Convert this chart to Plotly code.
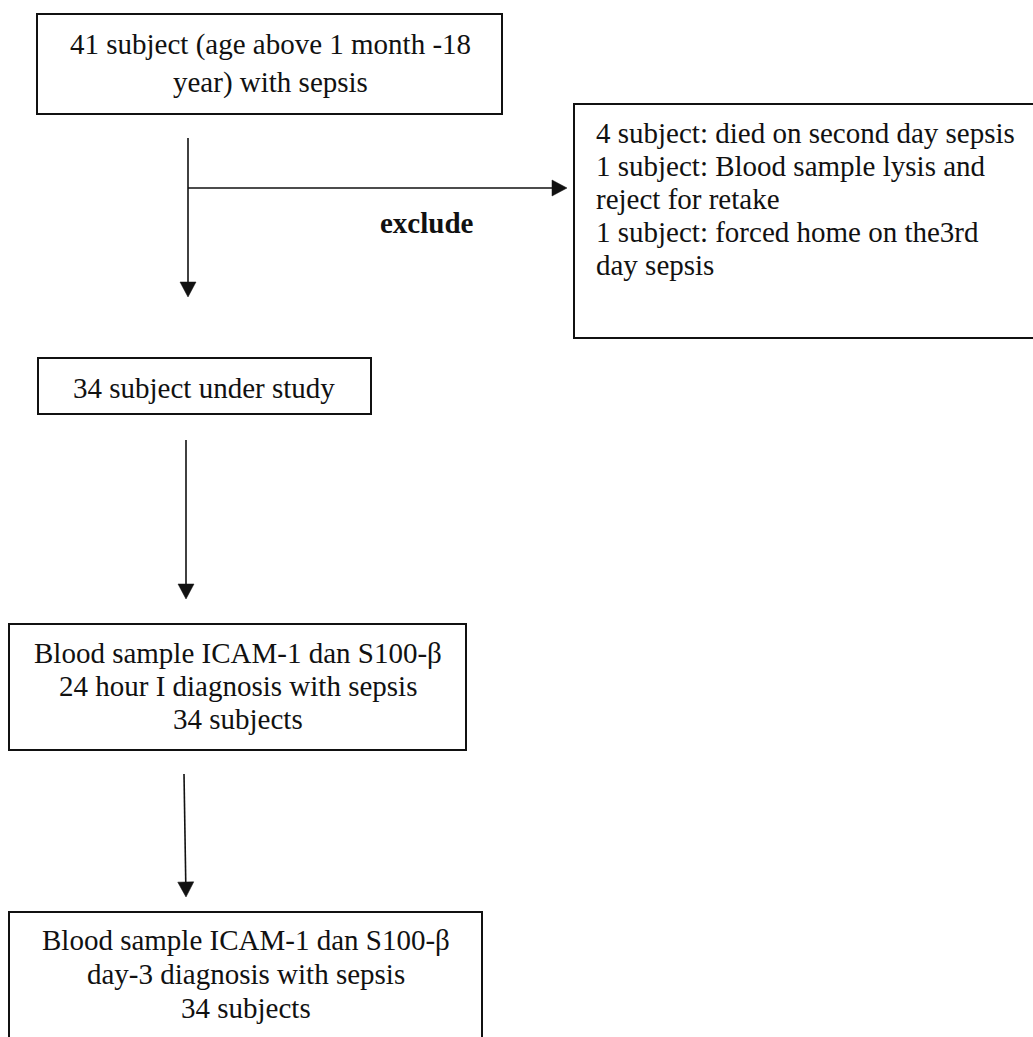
import math
import plotly.graph_objects as go

W, H = 1033, 1037
FONT = "Liberation Serif, Times New Roman, serif"
FS = 29

# Boxes: (x0, y0, x1, y1) in pixel coordinates of the canvas
box_names = ["start", "exclude", "study", "day1", "day3"]
box_x0 = [37, 574, 38, 9, 9]
box_y0 = [14, 104, 358, 624, 912]
box_x1 = [502, 1045, 371, 466, 482]
box_y1 = [114, 338, 414, 750, 1050]

# Text lines: text, x, baseline y, alignment
line_texts = [
    "41 subject (age above 1 month -18",
    "year) with sepsis",
    "4 subject: died on second day sepsis",
    "1 subject: Blood sample lysis and",
    "reject for retake",
    "1 subject: forced home on the3rd",
    "day sepsis",
    "34 subject under study",
    "Blood sample ICAM-1 dan S100-β",
    "24 hour I diagnosis with sepsis",
    "34 subjects",
    "Blood sample ICAM-1 dan S100-β",
    "day-3 diagnosis with sepsis",
    "34 subjects",
]
line_x = [270, 270, 594, 594, 594, 594, 594, 204, 238, 238, 238, 246, 246, 246]
line_base = [53, 91, 142, 175, 208, 241, 274, 397, 662, 695, 728, 949, 983, 1017]
line_align = ["center", "center", "left", "left", "left", "left", "left",
              "center", "center", "center", "center", "center", "center", "center"]

# Label
label_text = "<b>exclude</b>"
label_x = 427
label_base = 232

# Arrows: start (x, y) -> tip (x, y)
arrow_x0 = [188, 188, 186, 184]
arrow_y0 = [138, 188, 440, 774]
arrow_x1 = [188, 567, 186, 186]
arrow_y1 = [297, 188, 599, 897]

fig = go.Figure()
fig.add_trace(go.Scatter(x=[0, W], y=[0, H], mode="markers",
                         marker=dict(opacity=0), hoverinfo="skip", showlegend=False))

shapes = []
for x0, y0, x1, y1 in zip(box_x0, box_y0, box_x1, box_y1):
    shapes.append(dict(type="rect", xref="x", yref="y", x0=x0, y0=y0, x1=x1, y1=y1,
                       line=dict(color="#111111", width=2), fillcolor="rgba(0,0,0,0)"))

HEAD_L = 15
HEAD_W = 8
for x0, y0, x1, y1 in zip(arrow_x0, arrow_y0, arrow_x1, arrow_y1):
    dx, dy = x1 - x0, y1 - y0
    L = math.hypot(dx, dy)
    ux, uy = dx / L, dy / L
    bx, by = x1 - ux * HEAD_L, y1 - uy * HEAD_L
    px, py = -uy, ux
    shapes.append(dict(type="line", xref="x", yref="y", x0=x0, y0=y0, x1=bx, y1=by,
                       line=dict(color="#111111", width=1.6)))
    path = (f"M {x1},{y1} L {bx + px * HEAD_W},{by + py * HEAD_W} "
            f"L {bx - px * HEAD_W},{by - py * HEAD_W} Z")
    shapes.append(dict(type="path", xref="x", yref="y", path=path,
                       fillcolor="#111111", line=dict(color="#111111", width=0.5)))

OFF = 0.30 * FS  # baseline -> middle of text box
annotations = []
for t, x, b, a in zip(line_texts, line_x, line_base, line_align):
    annotations.append(dict(text=t, x=x, y=b - OFF, xref="x", yref="y",
                            xanchor="left" if a == "left" else "center",
                            yanchor="middle", showarrow=False,
                            font=dict(family=FONT, size=FS, color="#111111")))
annotations.append(dict(text=label_text, x=label_x, y=label_base - OFF, xref="x", yref="y",
                        xanchor="center", yanchor="middle", showarrow=False,
                        font=dict(family=FONT, size=FS, color="#111111")))

fig.update_layout(
    width=W, height=H,
    margin=dict(l=0, r=0, t=0, b=0),
    paper_bgcolor="white", plot_bgcolor="white",
    xaxis=dict(range=[0, W], visible=False, fixedrange=True),
    yaxis=dict(range=[H, 0], visible=False, fixedrange=True),
    shapes=shapes, annotations=annotations,
    showlegend=False,
)

fig.write_html("out.html", config={"displayModeBar": False},
               post_script="document.body.style.margin='0';")
